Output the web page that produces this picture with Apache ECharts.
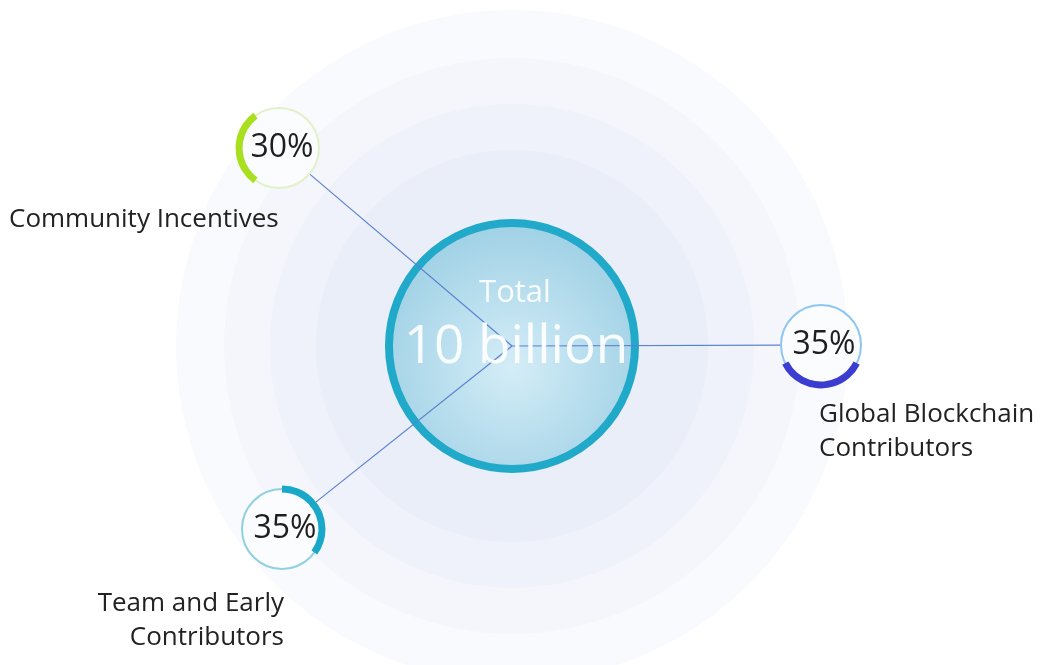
<!DOCTYPE html>
<html><head><meta charset="utf-8">
<script src="https://cdn.jsdelivr.net/npm/echarts@6/dist/echarts.min.js"></script>
<style>html,body{margin:0;padding:0;background:#fff}#c{width:1041px;height:665px}</style>
</head><body><div id="c"></div>
<script>
// ---- data ----
const categories = ['Community Incentives', 'Global Blockchain\nContributors', 'Team and Early\nContributors'];
const shares = [30, 35, 35];
const totalTitle = 'Total';
const totalText = '10 billion';

// ---- layout / style (not data) ----
const FONT = '"Open Sans", "Noto Sans", sans-serif';
const C = [512, 346];
const nodes = [
  {c: [279, 148], mid: 180, arc: '#a8e01e', ring: '#e2f1c9', label: {x: 9, y: 220, align: 'left'}},
  {c: [821, 345], mid: 270, arc: '#3a3dcf', ring: '#8fc6f1', label: {x: 819, y: 432, align: 'left'}},
  {c: [282, 529], start: 90, arc: '#1aa8c8', ring: '#8fd0e1', label: {x: 284, y: 621, align: 'right'}}
];
const ringR = 40;

const chart = echarts.init(document.getElementById('c'), null, {renderer: 'canvas'});

const graphics = [];
// background concentric circles
[[336, '#f9fafd'], [288, '#f4f6fc'], [242, '#eff2fa'], [196, '#e9eef8']].forEach(([r, col]) => {
  graphics.push({type: 'circle', z: 0, shape: {cx: C[0], cy: C[1], r: r}, style: {fill: col}, silent: true});
});
// central circle
graphics.push({type: 'circle', z: 1, shape: {cx: C[0], cy: C[1], r: 123},
  style: {fill: new echarts.graphic.RadialGradient(0.5, 0.58, 0.6, [
    {offset: 0, color: '#d4edf7'}, {offset: 1, color: '#9ccfe4'}]), stroke: '#21a9c9', lineWidth: 8}, silent: true});
// connector lines
nodes.forEach(n => {
  const dx = n.c[0] - C[0], dy = n.c[1] - C[1];
  const d = Math.sqrt(dx * dx + dy * dy);
  graphics.push({type: 'line', z: 2, shape: {x1: C[0], y1: C[1], x2: n.c[0] - dx / d * ringR, y2: n.c[1] - dy / d * ringR},
    style: {stroke: '#5b82cf', lineWidth: 1.2}, silent: true});
  // thin ring
  graphics.push({type: 'circle', z: 3, shape: {cx: n.c[0], cy: n.c[1], r: ringR}, style: {fill: '#fbfcfe', stroke: n.ring, lineWidth: 2}, silent: true});
});
// centre text
graphics.push({type: 'text', z: 5, style: {text: totalTitle, x: 515, y: 293, align: 'center', verticalAlign: 'middle',
  fill: 'rgba(255,255,255,0.9)', font: '31px ' + FONT}, silent: true});
graphics.push({type: 'text', z: 5, style: {text: totalText, x: 516, y: 348, align: 'center', verticalAlign: 'middle',
  fill: 'rgba(255,255,255,0.92)', font: '53px ' + FONT}, silent: true});
// category labels
categories.forEach((name, i) => {
  const L = nodes[i].label;
  graphics.push({type: 'text', z: 5, style: {text: name, x: L.x, y: L.y, align: L.align, verticalAlign: 'middle',
    fill: '#222', font: '26px ' + FONT, lineHeight: 34}, silent: true});
});

const series = shares.map((v, i) => {
  const n = nodes[i];
  const start = n.start !== undefined ? n.start : n.mid + v * 3.6 / 2;
  return {
    type: 'pie', center: n.c, radius: [ringR - 3.5, ringR + 3.5], startAngle: start, clockwise: true,
    silent: true, avoidLabelOverlap: false, z: 4, animation: false,
    labelLine: {show: false},
    data: [
      {value: v, itemStyle: {color: n.arc},
        label: {show: true, position: 'center', formatter: '{c}%', color: '#1e1e1e', fontSize: 32, fontFamily: FONT, offset: [3, 0]}},
      {value: 100 - v, itemStyle: {color: 'rgba(0,0,0,0)'}, label: {show: false}}
    ]
  };
});

chart.setOption({
  animation: false,
  graphic: graphics,
  series: series
});
</script></body></html>
